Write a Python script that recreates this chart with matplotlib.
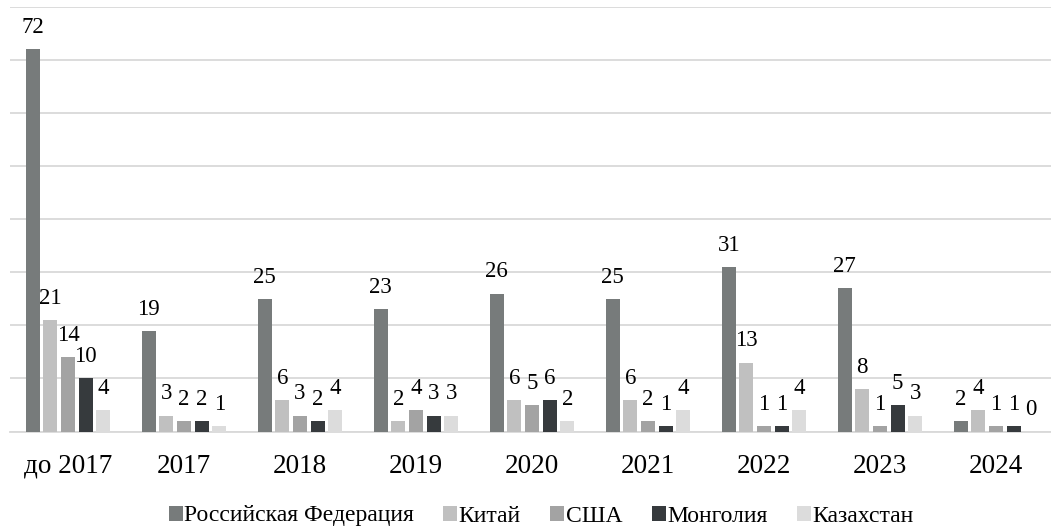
import matplotlib
matplotlib.use("Agg")
import matplotlib.pyplot as plt
import numpy as np

categories = ["до 2017", "2017", "2018", "2019", "2020", "2021", "2022", "2023", "2024"]
series_names = ["Российская Федерация", "Китай", "США", "Монголия", "Казахстан"]
russia = [72, 19, 25, 23, 26, 25, 31, 27, 2]
china = [21, 3, 6, 2, 6, 6, 13, 8, 4]
usa = [14, 2, 3, 4, 5, 2, 1, 1, 1]
mongolia = [10, 2, 2, 3, 6, 1, 1, 5, 1]
kazakhstan = [4, 1, 4, 3, 2, 4, 4, 3, 0]
colors = ["#777b7b", "#c0c0c0", "#a3a3a3", "#363a3d", "#dcdcdc"]

plt.rcParams['font.family'] = ['Liberation Serif', 'DejaVu Serif']

fig = plt.figure(figsize=(10.51, 5.26), dpi=100)
ax = fig.add_axes([10/1051, 1-431.5/526, 1044/1051, 424.5/526])

x = np.arange(len(categories))
step = 0.152
width = 0.119
all_series = [russia, china, usa, mongolia, kazakhstan]
for i, (vals, name, c) in enumerate(zip(all_series, series_names, colors)):
    pos = x + (i - 2) * step
    ax.bar(pos, vals, width=width, color=c, label=name, zorder=3)
    for p, v in zip(pos, vals):
        ax.annotate(str(v), (p, v), xytext=(0, 8), textcoords="offset points",
                    ha="center", va="bottom", fontsize=16.5, color="#000000")

ax.set_xlim(-0.5, len(categories) - 0.5)
ax.set_ylim(0, 80)
ax.set_yticks(np.arange(0, 81, 10))
ax.yaxis.grid(True, color="#d9d9d9", linewidth=1.3, zorder=0)
ax.set_yticklabels([])
ax.tick_params(axis="y", length=0)
ax.tick_params(axis="x", length=0, pad=16, labelsize=19.5, labelcolor="#000000")
ax.set_xticks(x)
ax.set_xticklabels(categories)
for s in ["top", "right", "left"]:
    ax.spines[s].set_visible(False)
ax.spines["bottom"].set_color("#d9d9d9")
ax.spines["bottom"].set_linewidth(1.3)

leg = fig.legend(loc="center", bbox_to_anchor=(541/1051, 1-516/526), ncol=5,
                 frameon=False, fontsize=17, handlelength=0.6, handleheight=0.6,
                 handletextpad=0.05, columnspacing=1.25)

fig.savefig("out.png", dpi=100)
